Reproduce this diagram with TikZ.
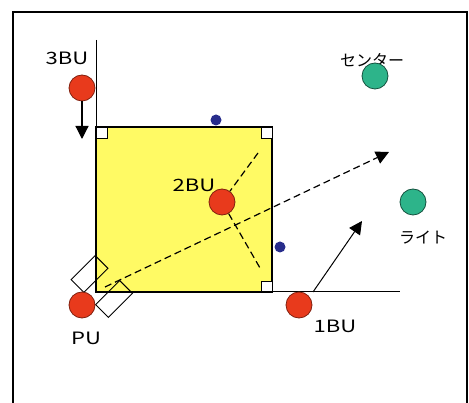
\documentclass[tikz,border=0pt]{standalone}
\usepackage{fontspec}
\setmainfont{Noto Sans CJK JP}
\newfontfamily\labfont{Noto Sans CJK JP}[FakeStretch=1.3]
\usetikzlibrary{arrows.meta}
\definecolor{bured}{RGB}{232,58,28}
\definecolor{ligreen}{RGB}{45,180,138}
\definecolor{dotblue}{RGB}{40,45,140}
\definecolor{sqyellow}{RGB}{255,250,100}

\begin{document}
\begin{tikzpicture}[x=1pt,y=-1pt,line width=1pt,>={Triangle[length=13pt,width=13pt]},
  ball/.style={circle,draw,line width=0.8pt,inner sep=0pt,minimum size=26pt},
  redball/.style={ball,fill=bured,draw=bured!55!black},
  greenball/.style={ball,fill=ligreen,draw=ligreen!45!black},
  bluedot/.style={circle,fill=dotblue,inner sep=0pt,minimum size=11pt},
  lab/.style={font=\labfont\fontsize{17}{17}\selectfont,inner sep=0pt},
  jplab/.style={font=\fontsize{16}{16}\selectfont,inner sep=0pt},
  corner/.style={draw,fill=white,line width=0.8pt},
  track/.style={dash pattern=on 7pt off 4pt,line width=1.2pt}]
  \useasboundingbox (0,0) rectangle (469,403);
  % marco exterior
  \draw[line width=1.5pt] (13,403) -- (13,12) -- (467,12) -- (467,403);
  % cuadro amarillo
  \fill[sqyellow] (96,127) rectangle (272,292);
  \draw[line width=1.5pt] (96,127) rectangle (272,292);
  \draw[line width=2.2pt] (96,292) -- (272,292);
  \draw[corner] (96,127) rectangle (107,138);
  \draw[corner] (261,127) rectangle (272,138);
  \draw[corner] (261,281) rectangle (272,292);
  % lineas de base
  \draw (96,40) -- (96,292);
  \draw (96,292) -- (400,292);
  % rectangulos junto a PU
  \draw[rotate around={45:(89.5,274)}] (72.5,265) rectangle (106.5,283);
  \draw[rotate around={45:(114,299)}] (97,290) rectangle (131,308);
  % etiquetas
  \node[lab] (l3) at (67,58) {3BU};
  \node[lab] (l2) at (194,185) {2BU};
  \node[lab] (lp) at (86,338) {PU};
  \node[lab] (l1) at (335,326) {1BU};
  \node[jplab] (lc) at (372,60) {センター};
  \node[jplab] (lr) at (423,238) {ライト};
  % puntos auxiliares
  \coordinate (bu3tip) at (82,139);
  \coordinate (bu1s) at (313,292);
  \coordinate (bu1tip) at (362,221);
  \coordinate (pus) at (105,287);
  \coordinate (putip) at (389,152);
  \coordinate (c1) at (258,153);
  \coordinate (c2) at (260,268);
  % bolas
  \node[redball] (bu3) at (82,88) {};
  \node[redball] (pu) at (82,305) {};
  \node[redball] (bu1) at (299,305) {};
  \node[redball] (bu2) at (222,202) {};
  \node[greenball] (cen) at (375,76) {};
  \node[greenball] (lig) at (413,202) {};
  \node[bluedot] (d1) at (216,120) {};
  \node[bluedot] (d2) at (280,247) {};
  % trayectorias
  \draw[track] (c1) -- (bu2) -- (c2);
  \draw[track,->] (pus) -- (putip);
  \draw[->,line width=1.2pt] (bu3) -- (bu3tip);
  \draw[->] (bu1s) -- (bu1tip);
\end{tikzpicture}
\end{document}
